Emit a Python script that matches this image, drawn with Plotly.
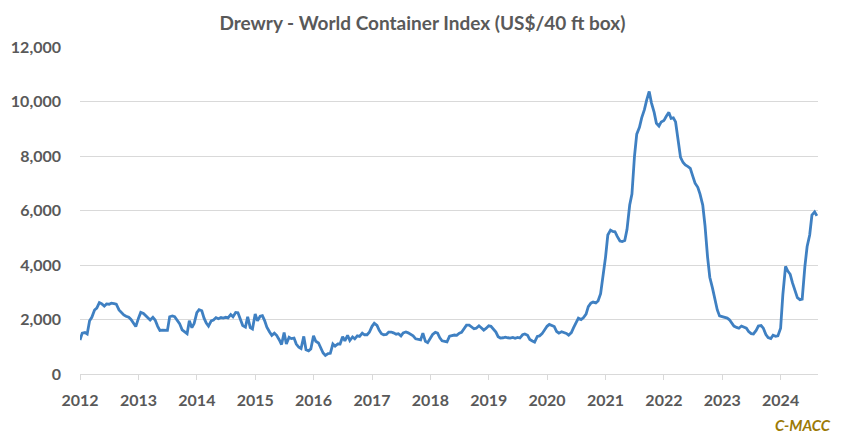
import pandas as pd
import plotly.graph_objects as go

# Drewry WCI at half-month steps (1st and 15th), Jan 2012 - Aug 2024
wci_2012_2014 = [
    1250, 1500, 1520, 1470, 1950, 2080, 2350, 2420, 2620, 2580, 2490, 2570,
    2560, 2600, 2580, 2560, 2350, 2250, 2170, 2120, 2080, 2000, 1850, 1740,
    2050, 2260, 2220, 2130, 2050, 1980, 2080, 1980, 1750, 1600, 1610, 1600,
    1600, 2100, 2130, 2100, 1950, 1850, 1620, 1540, 1480, 1950, 1700, 1850,
    2250, 2360, 2320, 2050, 1870, 1760, 1950, 1980, 2070, 2030, 2070, 2050,
    2080, 2060, 2180, 2100, 2260, 2250, 1980, 1780, 1720, 2100, 1700, 1650,
]
wci_2015_2017 = [
    2200, 1950, 2120, 2140, 1960, 1720, 1540, 1420, 1500, 1420, 1250, 1080,
    1520, 1100, 1350, 1300, 1320, 1100, 980, 930, 1380, 890, 850, 920,
    1400, 1200, 1140, 950, 770, 680, 750, 760, 1100, 1020, 1100, 1100,
    1370, 1220, 1420, 1230, 1360, 1290, 1400, 1380, 1500, 1440, 1440, 1530,
    1750, 1860, 1780, 1600, 1480, 1440, 1450, 1540, 1540, 1510, 1460, 1480,
    1400, 1510, 1540, 1510, 1460, 1400, 1290, 1260, 1250, 1500, 1200, 1150,
]
wci_2018_2020 = [
    1300, 1450, 1530, 1500, 1330, 1220, 1200, 1180, 1390, 1410, 1430, 1420,
    1500, 1530, 1700, 1790, 1790, 1730, 1660, 1680, 1770, 1700, 1610, 1670,
    1770, 1750, 1650, 1540, 1370, 1320, 1330, 1350, 1330, 1320, 1340, 1310,
    1340, 1320, 1440, 1470, 1420, 1270, 1210, 1170, 1380, 1400, 1480, 1620,
    1750, 1820, 1760, 1740, 1560, 1500, 1550, 1530, 1490, 1425, 1520, 1700,
    1900, 2050, 2000, 2060, 2200, 2470, 2600, 2640, 2610, 2680, 2950, 3500,
]
wci_2021_2024 = [
    4300, 5100, 5280, 5230, 5220, 5050, 4880, 4860, 4900, 5300, 6200, 6600,
    8000, 8800, 9050, 9400, 9700, 10050, 10370, 9950, 9600, 9200, 9100, 9250,
    9300, 9450, 9600, 9380, 9400, 9250, 8550, 7950, 7760, 7670, 7610, 7550,
    7250, 7000, 6850, 6600, 6200, 5450, 4300, 3550, 3150, 2750, 2350, 2130,
    2100, 2090, 2050, 1990, 1850, 1760, 1710, 1680, 1760, 1720, 1680, 1560,
    1480, 1470, 1600, 1760, 1780, 1680, 1450, 1340, 1300, 1420, 1380, 1400,
    1680, 2900, 3950, 3780, 3660, 3350, 3000, 2800, 2730, 2750, 3950, 4680,
    5100, 5830, 5950, 5800,
]

wci = wci_2012_2014 + wci_2015_2017 + wci_2018_2020 + wci_2021_2024
dates = pd.date_range("2012-01-01", periods=len(wci), freq="SMS")

years = [str(y) for y in range(2012, 2025)]
year_ticks = [f"{y}-01-01" for y in years]
y_ticks = list(range(0, 12001, 2000))

grey_text = "#595959"
grid = "#D9D9D9"

fig = go.Figure()
fig.add_trace(go.Scatter(
    x=dates, y=wci, mode="lines",
    line=dict(color="#3F80C2", width=2.8),
    hoverinfo="x+y", showlegend=False,
))

fig.update_layout(
    width=845, height=442,
    margin=dict(l=80, r=27, t=47, b=68, autoexpand=False),
    paper_bgcolor="white", plot_bgcolor="white",
    font=dict(family="Lato", color=grey_text),
    title=dict(
        text="<b>Drewry - World Container Index (US$/40 ft box)</b>",
        x=0.5, xanchor="center", y=0.947, yanchor="middle",
        font=dict(size=19, color=grey_text),
    ),
    xaxis=dict(
        type="date",
        range=["2012-01-01", "2024-08-22"],
        tickvals=year_ticks, ticktext=[f"<b>{y}</b>" for y in years],
        ticks="outside", ticklen=5, tickcolor=grid, tickwidth=1,
        showline=True, linecolor=grid, linewidth=1,
        showgrid=False, zeroline=False,
        tickfont=dict(size=16, color=grey_text),
        ticklabelstandoff=7,
    ),
    yaxis=dict(
        range=[0, 12000],
        tickvals=y_ticks, ticktext=[f"<b>{v:,}</b>" for v in y_ticks],
        showgrid=True, gridcolor=grid, gridwidth=1.2,
        zeroline=False, showline=False,
        tickfont=dict(size=16, color=grey_text),
        ticklabelstandoff=18,
    ),
    annotations=[dict(
        text="<b><i>C-MACC</i></b>", xref="paper", yref="paper",
        x=1.02, y=-0.155, xanchor="right", yanchor="middle",
        showarrow=False, font=dict(size=15, color="#9C7A06"),
    )],
)

fig.write_html("out.html", config={"displayModeBar": False},
               post_script="document.body.style.margin='0';")
